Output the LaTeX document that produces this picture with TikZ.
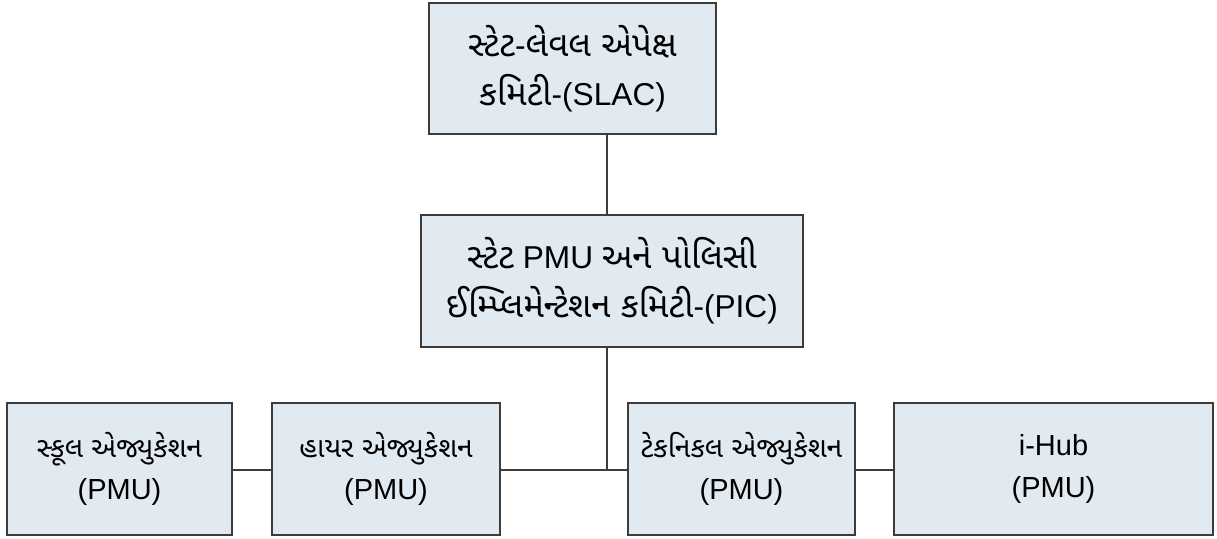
\documentclass[tikz,border=0pt]{standalone}
\usepackage{fontspec}
\setmainfont{Liberation Sans}
\newfontfamily\gujfont[Script=Gujarati,Scale=1.1]{Noto Sans Gujarati UI}
\newfontfamily\gujrow[Script=Gujarati,Scale=0.97]{Noto Sans Gujarati UI}
\usepackage{tikz}
\usetikzlibrary{calc,positioning}
\definecolor{boxfill}{RGB}{226,234,241}
\definecolor{boxline}{RGB}{60,60,60}

\tikzset{
  orgbox/.style={draw=boxline, fill=boxfill, line width=0.8pt, align=center,
    inner sep=0pt, outer sep=0pt, minimum height=2.64cm,
    font=\fontsize{18}{28}\selectfont},
  unitbox/.style={orgbox, font=\fontsize{16.5}{24}\selectfont},
  link/.style={draw=boxline, line width=0.6pt}
}

\begin{document}
\begin{tikzpicture}
  \useasboundingbox (0,0) rectangle (24.34,-10.78);

  % Top levels
  \node[orgbox, minimum width=5.74cm, minimum height=2.62cm] (slac) at (11.45,-1.37)
    {{\gujfont સ્ટેટ}-{\gujfont લેવલ એપેક્ષ}\\{\gujfont કમિટી}-(SLAC)};
  \node[orgbox, minimum width=7.64cm] (pic) at (12.24,-5.62)
    {{\gujfont સ્ટેટ} PMU {\gujfont અને પોલિસી}\\{\gujfont ઈમ્પ્લિમેન્ટેશન કમિટી}-(PIC)};

  % PMU row
  \node[unitbox, minimum width=4.50cm] (school) at (2.39,-9.38)
    {{\gujrow સ્કૂલ એજ્યુકેશન}\\(PMU)};
  \node[unitbox, minimum width=4.56cm] (higher) at (7.72,-9.38)
    {{\gujrow હાયર એજ્યુકેશન}\\(PMU)};
  \node[unitbox, minimum width=4.54cm] (tech) at (14.83,-9.38)
    {{\gujrow ટેકનિકલ એજ્યુકેશન}\\(PMU)};
  \node[unitbox, minimum width=6.38cm] (ihub) at (21.07,-9.38)
    {i-Hub\\(PMU)};

  \coordinate (junction) at (12.14,-9.40);

  % Connectors
  \draw[link] (slac.south -| junction) -- (pic.north -| junction);
  \draw[link] (pic.south -| junction) -- (junction);
  \draw[link] (school.east |- junction) -- (higher.west |- junction);
  \draw[link] (higher.east |- junction) -- (tech.west |- junction);
  \draw[link] (tech.east |- junction) -- (ihub.west |- junction);
\end{tikzpicture}
\end{document}
